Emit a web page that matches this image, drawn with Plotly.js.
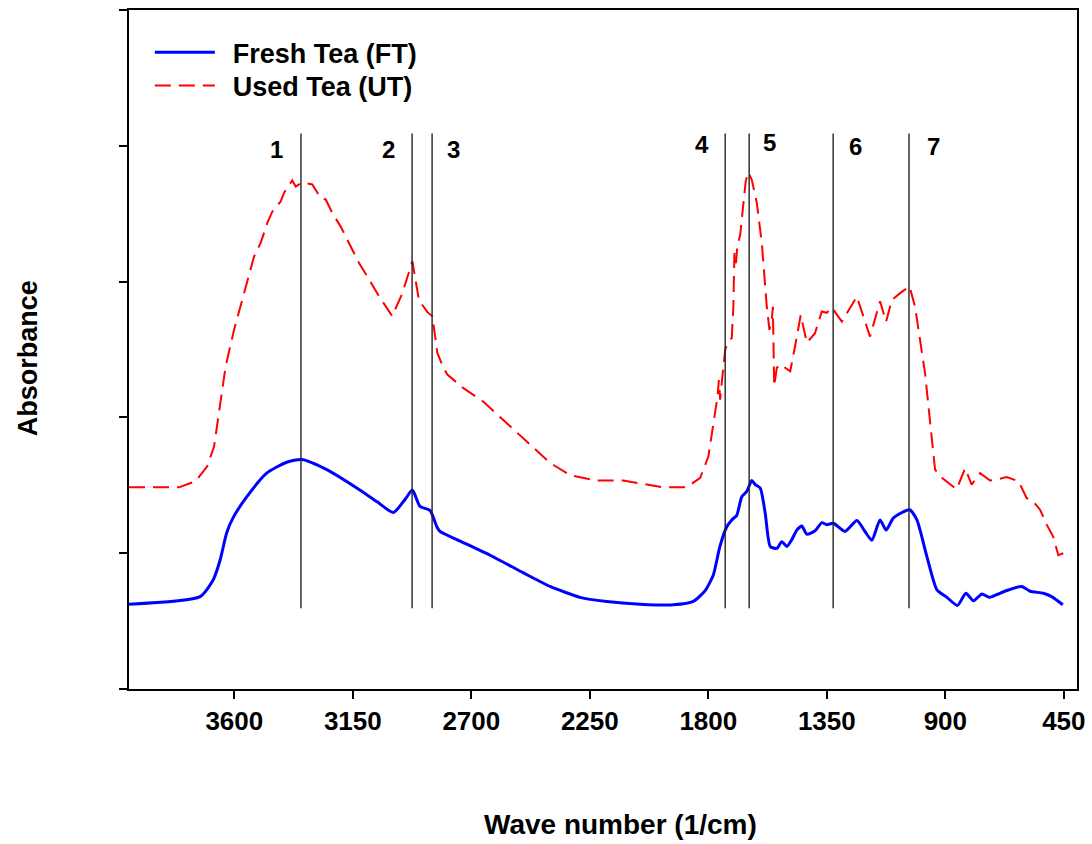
<!DOCTYPE html>
<html>
<head>
<meta charset="utf-8">
<script src="https://cdn.plot.ly/plotly-3.0.1.min.js"></script>
<style>html,body{margin:0;padding:0;background:#fff;}#chart{width:1092px;height:844px;}</style>
</head>
<body>
<div id="chart"></div>
<script>
// Fresh Tea (FT)
const ftWave = [4000,3730,3680,3654,3629,3605,3553,3477,3401,3344,3249,3135,3059,2996,2952,2924,2895,2857,2831,2819,2755,2629,2502,2401,2287,2186,2059,1933,1857,1812,1781,1756,1730,1711,1692,1673,1654,1635,1622,1603,1584,1565,1540,1521,1502,1483,1464,1445,1426,1395,1369,1350,1325,1281,1236,1205,1179,1148,1125,1097,1036,1008,970,932,894,854,822,793,761,733,705,667,610,578,528,496,454];
const ftAbs = [0.125,0.136,0.161,0.190,0.230,0.252,0.283,0.318,0.334,0.338,0.323,0.296,0.276,0.260,0.279,0.293,0.269,0.263,0.239,0.232,0.220,0.197,0.171,0.151,0.135,0.129,0.125,0.124,0.129,0.145,0.168,0.210,0.239,0.249,0.256,0.283,0.291,0.307,0.301,0.296,0.259,0.210,0.207,0.217,0.210,0.220,0.234,0.240,0.228,0.233,0.245,0.242,0.244,0.232,0.248,0.232,0.219,0.249,0.234,0.252,0.264,0.249,0.195,0.146,0.135,0.123,0.141,0.130,0.140,0.135,0.139,0.145,0.151,0.144,0.141,0.136,0.124];
// Used Tea (UT)
const utWave = [4000,3810,3747,3703,3677,3658,3633,3601,3563,3525,3500,3475,3456,3424,3411,3380,3367,3342,3304,3272,3253,3228,3196,3164,3126,3088,3050,3000,2962,2924,2899,2867,2848,2829,2806,2791,2730,2654,2566,2477,2401,2325,2224,2123,2034,1971,1882,1831,1800,1787,1781,1768,1765,1760,1755,1749,1740,1736,1724,1711,1705,1701,1695,1690,1679,1667,1658,1648,1635,1616,1597,1578,1568,1559,1555,1550,1540,1527,1489,1471,1449,1426,1395,1369,1350,1331,1293,1236,1186,1148,1125,1103,1072,1036,1015,977,951,939,913,857,825,800,768,730,698,667,622,591,566,540,515,490,471,452];
const utAbs = [0.297,0.297,0.306,0.328,0.357,0.406,0.475,0.529,0.583,0.637,0.657,0.686,0.703,0.718,0.731,0.749,0.740,0.746,0.743,0.723,0.721,0.701,0.681,0.657,0.627,0.603,0.578,0.549,0.583,0.630,0.573,0.555,0.549,0.495,0.473,0.463,0.443,0.423,0.392,0.360,0.333,0.315,0.307,0.307,0.301,0.297,0.297,0.311,0.342,0.377,0.387,0.426,0.431,0.455,0.426,0.451,0.480,0.500,0.512,0.517,0.563,0.642,0.627,0.652,0.669,0.721,0.748,0.761,0.750,0.716,0.657,0.563,0.529,0.544,0.563,0.446,0.473,0.478,0.468,0.504,0.551,0.510,0.524,0.556,0.554,0.562,0.541,0.578,0.519,0.571,0.541,0.573,0.583,0.593,0.563,0.465,0.367,0.323,0.311,0.294,0.325,0.301,0.318,0.307,0.309,0.312,0.306,0.281,0.276,0.264,0.242,0.224,0.197,0.200];
// Band markers
const bandWave = [3347,2925,2849,1736,1645,1326,1038];
const bandLabels = ['1','2','3','4','5','6','7'];
const bandLabelWave = [3438,3016,2766,1824,1569,1243,946];
const bandLabelY = [0.794,0.794,0.794,0.802,0.805,0.799,0.799];
const bandBottom = 0.119, bandTop = 0.818;
const xTicks = [3600,3150,2700,2250,1800,1350,900,450];

const FONT = 'Liberation Sans, Arial, sans-serif';
const NB = '\u00a0\u2009';

const traces = [
  {x: ftWave, y: ftAbs, type: 'scatter', mode: 'lines', name: NB + 'Fresh Tea (FT)', legend: 'legend',
   line: {color: '#0000ff', width: 3, shape: 'spline', smoothing: 0.6}},
  {x: utWave, y: utAbs, type: 'scatter', mode: 'lines', name: NB + 'Used Tea (UT)', legend: 'legend2',
   line: {color: '#ff0000', width: 2, dash: '16px,8px'}}
];

const shapes = bandWave.map(w => ({type: 'line', xref: 'x', yref: 'y', x0: w, x1: w, y0: bandBottom, y1: bandTop,
  line: {color: '#222', width: 1.4}}));

const annotations = bandLabels.map((t, i) => ({x: bandLabelWave[i], y: bandLabelY[i], xref: 'x', yref: 'y', text: t,
  showarrow: false, font: {family: FONT, size: 24, color: '#000', weight: 'bold'}}));
annotations.push({xref: 'paper', yref: 'paper', x: 0.518, y: -0.2, xanchor: 'center', yanchor: 'middle',
  text: 'Wave number (1/cm)', showarrow: false, font: {family: FONT, size: 28, color: '#000', weight: 'bold'}});
annotations.push({xref: 'paper', yref: 'paper', x: -0.1065, y: 0.487, xanchor: 'center', yanchor: 'middle',
  text: 'Absorbance', textangle: -90, showarrow: false, font: {family: FONT, size: 27, color: '#000', weight: 'bold'}});

const legFont = {family: FONT, size: 27, color: '#000', weight: 'bold'};
const layout = {
  width: 1092, height: 844,
  margin: {l: 129, r: 15, t: 10, b: 155},
  paper_bgcolor: '#fff', plot_bgcolor: '#fff',
  showlegend: true,
  legend: {x: 0.022, y: 0.937, xanchor: 'left', yanchor: 'middle', bgcolor: 'rgba(0,0,0,0)', font: legFont, itemwidth: 60},
  legend2: {x: 0.022, y: 0.888, xanchor: 'left', yanchor: 'middle', bgcolor: 'rgba(0,0,0,0)', font: legFont, itemwidth: 60},
  xaxis: {range: [4000, 400], tickvals: xTicks, ticktext: xTicks.map(String), ticks: 'outside', ticklen: 8, tickwidth: 2,
    tickcolor: '#000', showline: true, linecolor: '#000', linewidth: 2, mirror: true, showgrid: false, zeroline: false,
    tickfont: {family: FONT, size: 26, color: '#000', weight: 'bold'}},
  yaxis: {range: [0, 1], dtick: 0.2, tick0: 0, ticks: 'outside', ticklen: 8, tickwidth: 2, tickcolor: '#000',
    showticklabels: false, showline: true, linecolor: '#000', linewidth: 2, mirror: true, showgrid: false, zeroline: false},
  shapes: shapes,
  annotations: annotations
};

Plotly.newPlot('chart', traces, layout, {displayModeBar: false, staticPlot: true});
</script>
</body>
</html>
